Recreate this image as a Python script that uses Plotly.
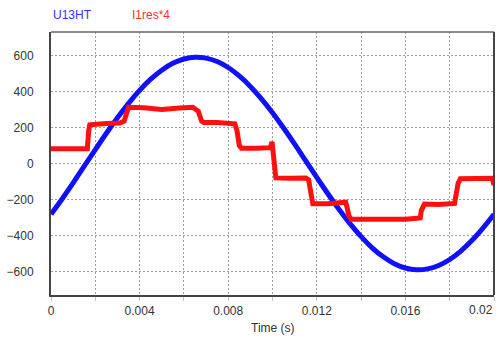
import plotly.graph_objects as go

# U13HT: line voltage, sampled every 0.5 ms over one 50 Hz cycle
t_u = [i * 0.0005 for i in range(41)]
u13ht = [-282, -197, -108, -15, 77, 168, 254, 334, 406, 468, 518, 556, 580, 590,
         585, 566, 533, 486, 428, 359, 282, 197, 108, 15, -77, -168, -254, -334,
         -406, -468, -518, -556, -580, -590, -585, -566, -533, -486, -428, -359, -282]

# I1res*4: stepped residual current (scaled by 4)
t_i = [0, 0.00164, 0.00170, 0.00175, 0.0025, 0.0031, 0.0033, 0.0034, 0.0035, 0.0042,
       0.0050, 0.0058, 0.0064, 0.00665, 0.0068, 0.0069, 0.0075, 0.0083, 0.0084, 0.0085,
       0.0086, 0.0093, 0.0099, 0.00998, 0.01005, 0.01015, 0.0108, 0.0115, 0.01163, 0.01172,
       0.01182, 0.0125, 0.0133, 0.01336, 0.01345, 0.01355, 0.0142, 0.0150, 0.0160, 0.01667,
       0.01672, 0.01686, 0.0175, 0.01822, 0.01828, 0.01838, 0.01848, 0.0192, 0.01992, 0.0200]
i1res4 = [82, 82, 180, 215, 222, 225, 235, 280, 312, 310,
          300, 308, 312, 290, 235, 228, 228, 220, 180, 100,
          85, 85, 88, 120, 20, -80, -82, -80, -90, -180,
          -224, -224, -215, -240, -290, -310, -310, -306, -310, -302,
          -260, -225, -228, -222, -180, -110, -85, -82, -82, -120]

x_ticks = [i * 0.002 for i in range(11)]
x_labels = ["0", "", "0.004", "", "0.008", "", "0.012", "", "0.016", "", ""]
y_ticks = [-600, -400, -200, 0, 200, 400, 600]

BLUE = "#1010ff"
RED = "#ff1010"
FONT = "Liberation Sans, Arial, sans-serif"
GRID = "#a0a0a0"

fig = go.Figure()
fig.add_trace(go.Scatter(x=t_u, y=u13ht, mode="lines", line=dict(color=BLUE, width=5, shape="spline")))
fig.add_trace(go.Scatter(x=t_i, y=i1res4, mode="lines", line=dict(color=RED, width=5)))

fig.update_layout(
    width=496, height=338,
    margin=dict(l=51, r=2, t=32, b=43),
    paper_bgcolor="white", plot_bgcolor="white",
    showlegend=False,
    font=dict(family=FONT, size=12, color="#333333"),
    xaxis=dict(
        range=[0, 0.02], tickvals=x_ticks, ticktext=x_labels,
        showgrid=True, gridcolor=GRID, gridwidth=1.2, griddash="2px,2px",
        showline=True, linecolor="#444444", linewidth=2,
        ticks="outside", ticklen=4, tickcolor="#c0c0c0",
        zeroline=False, tickfont=dict(size=12, color="#333333"),
    ),
    yaxis=dict(
        range=[-730, 730], tickvals=y_ticks,
        showgrid=True, gridcolor=GRID, gridwidth=1.2, griddash="2px,2px",
        showline=True, linecolor="#444444", linewidth=2,
        ticks="outside", ticklen=13, tickcolor="rgba(0,0,0,0)",
        zeroline=False, tickfont=dict(size=12, color="#333333"),
    ),
    shapes=[
        dict(type="line", xref="paper", yref="paper", x0=0, x1=1, y0=1, y1=1,
             line=dict(color="#666666", width=1.5)),
        dict(type="line", xref="paper", yref="paper", x0=1, x1=1, y0=0, y1=1,
             line=dict(color="#444444", width=2)),
    ],
    annotations=[
        dict(text="U13HT", xref="paper", yref="paper", x=0, y=1.065, xanchor="left",
             yanchor="middle", showarrow=False, font=dict(size=12, color="#3030ff")),
        dict(text="I1res*4", xref="paper", yref="paper", x=0.178, y=1.065, xanchor="left",
             yanchor="middle", showarrow=False, font=dict(size=12, color="#ff3030")),
        dict(text="0.02", xref="paper", yref="paper", x=0.97, y=-0.057, xanchor="center",
             yanchor="middle", showarrow=False, font=dict(size=12, color="#333333")),
        dict(text="Time (s)", xref="paper", yref="paper", x=0.5, y=-0.125, xanchor="center",
             yanchor="middle", showarrow=False, font=dict(size=12, color="#333333")),
    ],
)

fig.write_html("out.html")
